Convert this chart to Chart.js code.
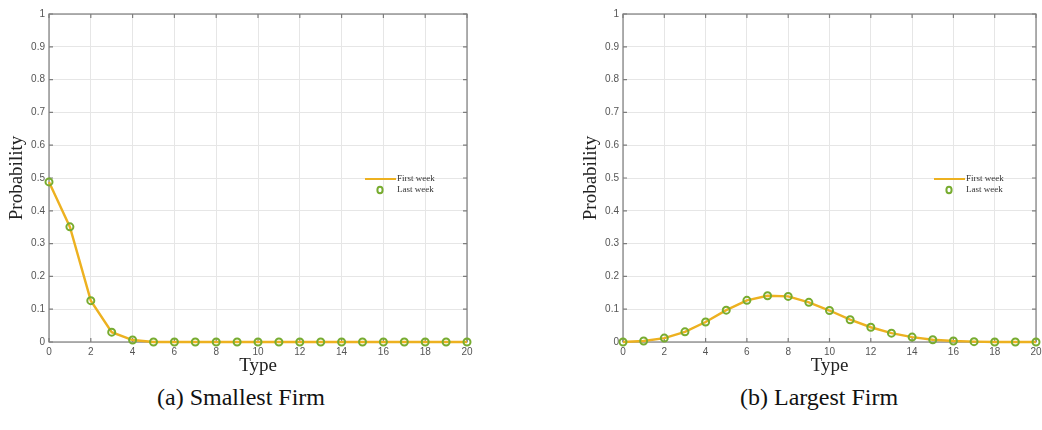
<!DOCTYPE html>
<html lang="en">
<head>
  <meta charset="UTF-8">
  <title>Type distribution by firm size</title>
  <style>
    body {
      margin: 0;
      background: #fff;
      width: 1042px;
      height: 430px;
      overflow: hidden;
      position: relative;
      font-family: 'Liberation Serif', serif;
    }
    .panel { position: absolute; top: 0; }
    #left { left: 0; }
    #right { left: 574px; }
    .caption {
      position: absolute;
      top: 384px;
      font-size: 24px;
      color: #111;
    }
  </style>
</head>
<body>

  <div class="panel" id="left"><canvas id="smallChart" width="480" height="380"></canvas></div>
  <div class="panel" id="right"><canvas id="largeChart" width="468" height="380"></canvas></div>
  <div class="caption" style="left:157px">(a) Smallest Firm</div>
  <div class="caption" style="left:740px">(b) Largest Firm</div>

  <script src="https://cdn.jsdelivr.net/npm/chart.js"></script>
  <script>
    // data
    const types = [0, 1, 2, 3, 4, 5, 6, 7, 8, 9, 10, 11, 12, 13, 14, 15, 16, 17, 18, 19, 20];
    const smallFirst = [0.488, 0.351, 0.126, 0.030, 0.006, 0, 0, 0, 0, 0, 0, 0, 0, 0, 0, 0, 0, 0, 0, 0, 0];
    const smallLast  = [0.488, 0.351, 0.126, 0.030, 0.006, 0, 0, 0, 0, 0, 0, 0, 0, 0, 0, 0, 0, 0, 0, 0, 0];
    const largeFirst = [0, 0.003, 0.012, 0.031, 0.061, 0.097, 0.127, 0.141, 0.139, 0.121, 0.096, 0.068, 0.045, 0.027, 0.015, 0.007, 0.003, 0.001, 0, 0, 0];
    const largeLast  = [0, 0.003, 0.012, 0.031, 0.061, 0.097, 0.127, 0.141, 0.139, 0.121, 0.096, 0.068, 0.045, 0.027, 0.015, 0.007, 0.003, 0.001, 0, 0, 0];
    const xTicks = [0, 2, 4, 6, 8, 10, 12, 14, 16, 18, 20];
    const yTicks = [0, 0.1, 0.2, 0.3, 0.4, 0.5, 0.6, 0.7, 0.8, 0.9, 1];
    const seriesNames = ['First week', 'Last week'];

    const lineColor = '#EDB120';
    const markColor = '#77AC30';
    const frameColor = '#7d7d7d';

    // box around the axes with small inward ticks, like matlab "box on"
    const frame = {
      id: 'frame',
      beforeDatasetsDraw(chart) {
        const { ctx, chartArea: a, scales } = chart;
        ctx.save();
        ctx.strokeStyle = frameColor;
        ctx.lineWidth = 1.2;
        ctx.strokeRect(a.left, a.top, a.right - a.left, a.bottom - a.top);
        ctx.beginPath();
        xTicks.forEach(v => {
          const x = scales.x.getPixelForValue(v);
          ctx.moveTo(x, a.bottom); ctx.lineTo(x, a.bottom - 4);
          ctx.moveTo(x, a.top); ctx.lineTo(x, a.top + 4);
        });
        yTicks.forEach(v => {
          const y = scales.y.getPixelForValue(v);
          ctx.moveTo(a.left, y); ctx.lineTo(a.left + 4, y);
          ctx.moveTo(a.right, y); ctx.lineTo(a.right - 4, y);
        });
        ctx.stroke();
        ctx.restore();
      }
    };

    // legend sits inside the plot, near the right edge
    const insideLegend = {
      id: 'insideLegend',
      afterDraw(chart) {
        const { ctx, chartArea: a } = chart;
        const ds = chart.data.datasets;
        const x0 = a.right - 102;
        const y1 = a.top + 165;
        const y2 = a.top + 176;
        ctx.save();
        ctx.strokeStyle = ds[0].borderColor;
        ctx.lineWidth = 2;
        ctx.beginPath();
        ctx.moveTo(x0, y1);
        ctx.lineTo(x0 + 31, y1);
        ctx.stroke();
        ctx.strokeStyle = ds[1].borderColor;
        ctx.beginPath();
        ctx.ellipse(x0 + 15, y2, 2.6, 3.3, 0, 0, Math.PI * 2);
        ctx.stroke();
        ctx.fillStyle = '#333';
        ctx.font = '9px "Liberation Serif", serif';
        ctx.textBaseline = 'middle';
        ctx.fillText(ds[0].label, x0 + 32, y1);
        ctx.fillText(ds[1].label, x0 + 32, y2);
        ctx.restore();
      }
    };

    function makeChart(canvasId, first, last, padRight) {
      new Chart(document.getElementById(canvasId), {
        type: 'line',
        data: {
          datasets: [{
            label: seriesNames[0],
            data: types.map((t, i) => ({ x: t, y: first[i] })),
            borderColor: lineColor,
            borderWidth: 2.4,
            pointRadius: 0,
            tension: 0,
            clip: false,
            order: 2
          }, {
            label: seriesNames[1],
            data: types.map((t, i) => ({ x: t, y: last[i] })),
            showLine: false,
            borderColor: markColor,
            backgroundColor: 'rgba(255,255,255,0)',
            borderWidth: 2,
            pointRadius: 3.5,
            pointStyle: 'circle',
            clip: false,
            order: 1
          }]
        },
        options: {
          responsive: false,
          animation: false,
          layout: { padding: { top: 14, right: padRight, left: 0, bottom: 0 } },
          plugins: { legend: { display: false }, tooltip: { enabled: false } },
          scales: {
            x: {
              type: 'linear',
              min: 0,
              max: 20,
              afterBuildTicks: s => { s.ticks = xTicks.map(v => ({ value: v })); },
              afterFit: s => { s.height = 38; s.paddingLeft = 0; s.paddingRight = 0; },
              ticks: {
                padding: 4,
                color: '#555',
                font: { family: 'Liberation Sans', size: 10 }
              },
              grid: { color: '#e6e6e6', drawTicks: false },
              border: { display: false },
              title: {
                display: true,
                text: 'Type',
                color: '#222',
                font: { family: 'Liberation Serif', size: 19 },
                padding: { top: 0, bottom: 3 }
              }
            },
            y: {
              min: 0,
              max: 1,
              afterBuildTicks: s => { s.ticks = yTicks.map(v => ({ value: v })); },
              afterFit: s => { s.width = 49; s.paddingTop = 0; s.paddingBottom = 0; },
              ticks: {
                padding: 4,
                color: '#555',
                font: { family: 'Liberation Sans', size: 10 },
                callback: v => String(v)
              },
              grid: { color: '#e6e6e6', drawTicks: false },
              border: { display: false },
              title: {
                display: true,
                text: 'Probability',
                color: '#222',
                font: { family: 'Liberation Serif', size: 19 },
                padding: { top: 6, bottom: 0 }
              }
            }
          }
        },
        plugins: [frame, insideLegend]
      });
    }

    makeChart('smallChart', smallFirst, smallLast, 13);
    makeChart('largeChart', largeFirst, largeLast, 1);
  </script>

</body>
</html>
